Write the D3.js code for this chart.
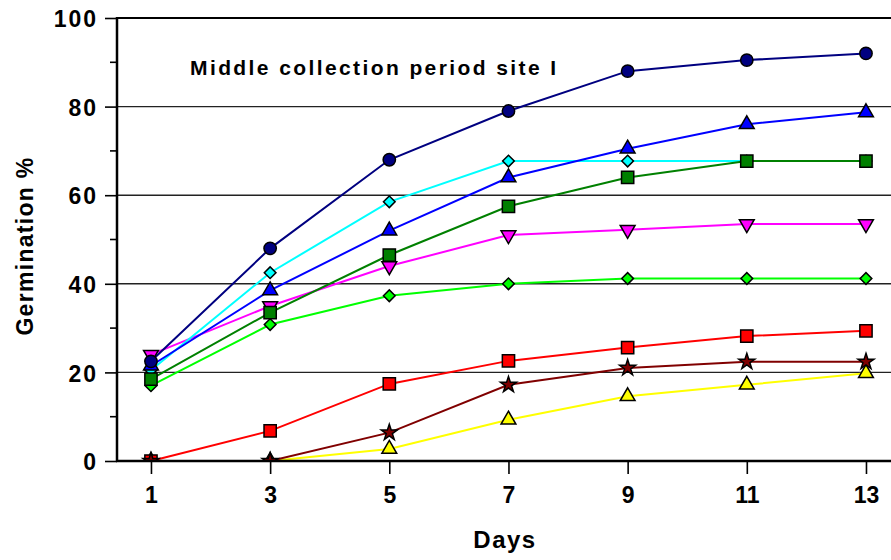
<!DOCTYPE html>
<html>
<head>
<meta charset="utf-8">
<script src="https://cdn.jsdelivr.net/npm/d3@7"></script>
<style>
  body { margin: 0; background: #fff; }
  text { font-family: "Liberation Sans", Arial, sans-serif; font-weight: bold; }
</style>
</head>
<body>
<div id="chart"></div>
<script>
// days on the x axis
var days = [1, 3, 5, 7, 9, 11, 13];
var yTicks = [0, 20, 40, 60, 80, 100];

// germination % per series
var yellowTri     = [0, 0, 2.7, 9.3, 14.6, 17.2, 19.8];
var limeDiamond   = [17, 30.8, 37.3, 40, 41.2, 41.2, 41.2];
var pinkDown      = [24, 35, 44, 51, 52.2, 53.5, 53.5];
var cyanDiamond   = [20.5, 42.5, 58.5, 67.7, 67.7, 67.7, 67.7];
var blueTriangle  = [21.5, 38.5, 52, 64, 70.5, 76, 78.7];
var navyCircle    = [22.5, 48, 68, 79, 88, 90.5, 92];
var greenSquare   = [18.5, 33.5, 46.5, 57.5, 64, 67.7, 67.7];
var redSquare     = [0, 6.8, 17.4, 22.6, 25.6, 28.2, 29.4];
var maroonStar    = [0, 0, 6.4, 17.2, 21, 22.4, 22.4];

var series = [
  {vals: yellowTri,    color: "#FFFF00", shape: "triangle"},
  {vals: limeDiamond,  color: "#00FF00", shape: "diamond"},
  {vals: pinkDown,     color: "#FF00FF", shape: "down"},
  {vals: cyanDiamond,  color: "#00FFFF", shape: "diamond"},
  {vals: blueTriangle, color: "#0000FF", shape: "triangle"},
  {vals: navyCircle,   color: "#000080", shape: "circle"},
  {vals: greenSquare,  color: "#008000", shape: "square"},
  {vals: redSquare,    color: "#FF0000", shape: "square"},
  {vals: maroonStar,   color: "#800000", shape: "star"}
];

var width = 891,
    height = 560;

var x = d3.scaleLinear().domain([0.43, 13.42]).range([117, 891]);
var y = d3.scaleLinear().domain([0, 100]).range([461, 18]);

var svg = d3.select("#chart").append("svg")
            .attr("width", width)
            .attr("height", height);

svg.append("clipPath").attr("id", "plot")
   .append("rect")
   .attr("x", x.range()[0]).attr("y", 0)
   .attr("width", x.range()[1] - x.range()[0])
   .attr("height", y(0));

// gridlines
svg.selectAll(".grid")
   .data(yTicks.filter(function(d) { return d > 0; }))
   .enter().append("line")
   .attr("x1", x.range()[0]).attr("x2", x.range()[1])
   .attr("y1", function(d) { return y(d); })
   .attr("y2", function(d) { return y(d); })
   .style("stroke", function(d) { return d == 100 ? "#000" : "#222"; })
   .style("stroke-width", function(d) { return d == 100 ? 2.2 : 1.4; });

// y axis
var yAxis = d3.axisLeft(y).tickValues(yTicks).tickSize(12).tickPadding(9);
var gy = svg.append("g").attr("transform", "translate(117,0)").call(yAxis);
gy.select(".domain").remove();
gy.selectAll(".tick line").style("stroke-width", 1.6);
gy.selectAll("text").style("font-size", "23px").style("letter-spacing", "2px")
  .attr("dx", "2px").attr("dy", "0.38em").style("fill", "#000");

// minor y ticks
svg.selectAll(".minor")
   .data(d3.range(10, 100, 20))
   .enter().append("line")
   .attr("x1", 110).attr("x2", 117)
   .attr("y1", function(d) { return y(d); })
   .attr("y2", function(d) { return y(d); })
   .style("stroke", "#000").style("stroke-width", 1.6);

// x axis
var xAxis = d3.axisBottom(x).tickValues(days).tickSize(13).tickPadding(13);
var gx = svg.append("g").attr("transform", "translate(0,461)").call(xAxis);
gx.select(".domain").remove();
gx.selectAll(".tick line").style("stroke-width", 1.6);
gx.selectAll("text").style("font-size", "23px").style("fill", "#000");

// lines
var line = d3.line()
             .x(function(d, i) { return x(days[i]); })
             .y(function(d) { return y(d); });

svg.selectAll(".series")
   .data(series)
   .enter().append("path")
   .attr("d", function(s) { return line(s.vals); })
   .style("fill", "none")
   .style("stroke", function(s) { return s.color; })
   .style("stroke-width", 2);

// markers
function symbolFor(shape) {
  if (shape == "circle") return d3.symbol(d3.symbolCircle, 120)();
  if (shape == "square") return d3.symbol(d3.symbolSquare, 150)();
  if (shape == "diamond") return d3.symbol(d3.symbolSquare, 68)();
  if (shape == "star") return d3.symbol(d3.symbolStar, 80)();
  return d3.symbol(d3.symbolTriangle, 95)();
}
function rot(shape) {
  if (shape == "diamond") return " rotate(45)";
  if (shape == "down") return " rotate(180)";
  return "";
}

var marks = svg.append("g").attr("clip-path", "url(#plot)");
series.forEach(function(s) {
  marks.append("g").selectAll("path")
     .data(s.vals)
     .enter().append("path")
     .attr("d", symbolFor(s.shape))
     .attr("transform", function(d, i) {
       return "translate(" + x(days[i]) + "," + y(d) + ")" + rot(s.shape);
     })
     .style("fill", s.color)
     .style("stroke", "#000")
     .style("stroke-width", 1.5);
});

// axis lines
svg.append("line").attr("x1", 117).attr("x2", 117).attr("y1", y(100) - 1).attr("y2", y(0) + 1)
   .style("stroke", "#000").style("stroke-width", 2.5);
svg.append("line").attr("x1", 116).attr("x2", 891).attr("y1", y(0)).attr("y2", y(0))
   .style("stroke", "#000").style("stroke-width", 2.5);

// texts
svg.append("text")
   .attr("x", 190).attr("y", 75)
   .style("font-size", "21px").style("letter-spacing", "2.4px")
   .text("Middle collection period site I");

svg.append("text")
   .attr("x", 505).attr("y", 548)
   .attr("text-anchor", "middle")
   .style("font-size", "24px").style("letter-spacing", "1.5px")
   .text("Days");

svg.append("text")
   .attr("transform", "translate(33,246) rotate(-90)")
   .attr("text-anchor", "middle")
   .style("font-size", "23px").style("letter-spacing", "1.3px")
   .text("Germination %");
</script>
</body>
</html>
